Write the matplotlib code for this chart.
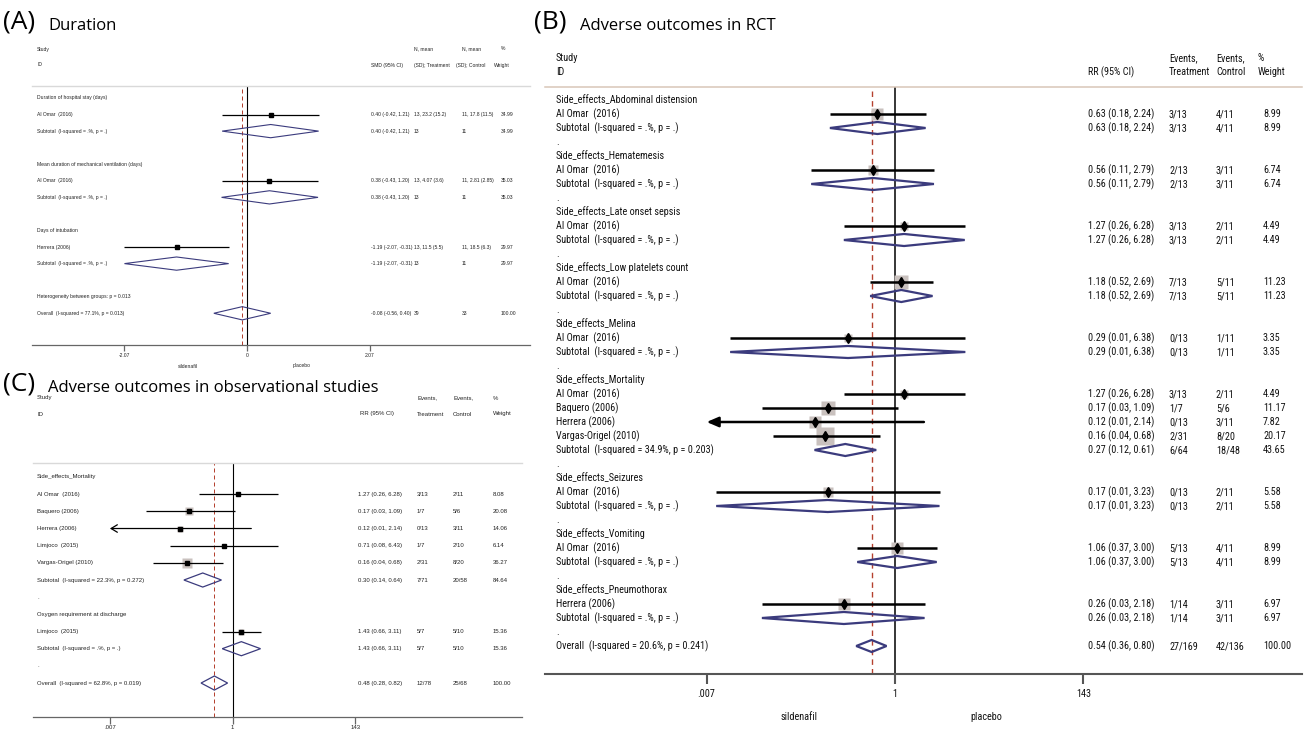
import matplotlib
matplotlib.use("Agg")
import matplotlib.pyplot as plt
from matplotlib.transforms import blended_transform_factory
from matplotlib.patches import Polygon
from matplotlib.ticker import NullLocator
from matplotlib import font_manager as fm
import numpy as np

SUB = "Subtotal  (I-squared = .%, p = .)"

# ---------------- Panel A : Duration (SMD) ----------------
A_labels = ["Duration of hospital stay (days)", "Al Omar  (2016)", SUB, "",
            "Mean duration of mechanical ventilation (days)", "Al Omar  (2016)", SUB, "",
            "Days of intubation", "Herrera (2006)", SUB, "",
            "Heterogeneity between groups: p = 0.013",
            "Overall  (I-squared = 77.1%, p = 0.013)"]
A_kind = ["head", "study", "sub", "blank", "head", "study", "sub", "blank",
          "head", "study", "sub", "blank", "head", "sub"]
A_est = [None, 0.40, 0.40, None, None, 0.38, 0.38, None, None, -1.19, -1.19, None, None, -0.08]
A_lo = [None, -0.42, -0.42, None, None, -0.43, -0.43, None, None, -2.07, -2.07, None, None, -0.56]
A_hi = [None, 1.21, 1.21, None, None, 1.20, 1.20, None, None, -0.31, -0.31, None, None, 0.40]
A_trt = ["", "13, 23.2 (15.2)", "13", "", "", "13, 4.07 (3.6)", "13", "", "",
         "13, 11.5 (5.5)", "13", "", "", "39"]
A_ctrl = ["", "11, 17.8 (11.5)", "11", "", "", "11, 2.81 (2.85)", "11", "", "",
          "11, 18.5 (6.3)", "11", "", "", "33"]
A_wt = [None, 34.99, 34.99, None, None, 35.03, 35.03, None, None, 29.97, 29.97, None, None, 100.00]
A_ticks = [-2.07, 0, 2.07]
A_ticklabels = ["-2.07", "0", "2.07"]
A_headers = ["Study", "ID", "SMD (95% CI)", "N, mean", "(SD); Treatment",
             "N, mean", "(SD); Control", "%", "Weight"]

# ---------------- Panel B : Adverse outcomes in RCT (RR) ----------------
B_labels = ["Side_effects_Abdominal distension", "Al Omar  (2016)", SUB, ".",
            "Side_effects_Hematemesis", "Al Omar  (2016)", SUB, ".",
            "Side_effects_Late onset sepsis", "Al Omar  (2016)", SUB, ".",
            "Side_effects_Low platelets count", "Al Omar  (2016)", SUB, ".",
            "Side_effects_Melina", "Al Omar  (2016)", SUB, ".",
            "Side_effects_Mortality", "Al Omar  (2016)", "Baquero (2006)", "Herrera (2006)",
            "Vargas-Origel (2010)", "Subtotal  (I-squared = 34.9%, p = 0.203)", ".",
            "Side_effects_Seizures", "Al Omar  (2016)", SUB, ".",
            "Side_effects_Vomiting", "Al Omar  (2016)", SUB, ".",
            "Side_effects_Pneumothorax", "Herrera (2006)", SUB, ".",
            "Overall  (I-squared = 20.6%, p = 0.241)"]
B_kind = ["head", "study", "sub", "dot"] * 5 + \
         ["head", "study", "study", "study", "study", "sub", "dot"] + \
         ["head", "study", "sub", "dot"] * 3 + ["sub"]
B_est = [None, 0.63, 0.63, None, None, 0.56, 0.56, None, None, 1.27, 1.27, None,
         None, 1.18, 1.18, None, None, 0.29, 0.29, None,
         None, 1.27, 0.17, 0.12, 0.16, 0.27, None,
         None, 0.17, 0.17, None, None, 1.06, 1.06, None, None, 0.26, 0.26, None, 0.54]
B_lo = [None, 0.18, 0.18, None, None, 0.11, 0.11, None, None, 0.26, 0.26, None,
        None, 0.52, 0.52, None, None, 0.013, 0.013, None,
        None, 0.26, 0.03, 0.006, 0.04, 0.12, None,
        None, 0.009, 0.009, None, None, 0.37, 0.37, None, None, 0.03, 0.03, None, 0.36]
B_hi = [None, 2.24, 2.24, None, None, 2.79, 2.79, None, None, 6.28, 6.28, None,
        None, 2.69, 2.69, None, None, 6.38, 6.38, None,
        None, 6.28, 1.09, 2.14, 0.68, 0.61, None,
        None, 3.23, 3.23, None, None, 3.00, 3.00, None, None, 2.18, 2.18, None, 0.80]
B_trt = ["", "3/13", "3/13", "", "", "2/13", "2/13", "", "", "3/13", "3/13", "",
         "", "7/13", "7/13", "", "", "0/13", "0/13", "",
         "", "3/13", "1/7", "0/13", "2/31", "6/64", "",
         "", "0/13", "0/13", "", "", "5/13", "5/13", "", "", "1/14", "1/14", "", "27/169"]
B_ctrl = ["", "4/11", "4/11", "", "", "3/11", "3/11", "", "", "2/11", "2/11", "",
          "", "5/11", "5/11", "", "", "1/11", "1/11", "",
          "", "2/11", "5/6", "3/11", "8/20", "18/48", "",
          "", "2/11", "2/11", "", "", "4/11", "4/11", "", "", "3/11", "3/11", "", "42/136"]
B_wt = [None, 8.99, 8.99, None, None, 6.74, 6.74, None, None, 4.49, 4.49, None,
        None, 11.23, 11.23, None, None, 3.35, 3.35, None,
        None, 4.49, 11.17, 7.82, 20.17, 43.65, None,
        None, 5.58, 5.58, None, None, 8.99, 8.99, None, None, 6.97, 6.97, None, 100.00]
B_ticks = [0.007, 1, 143]
B_ticklabels = [".007", "1", "143"]
RR_headers = ["Study", "ID", "RR (95% CI)", "Events,", "Treatment",
              "Events,", "Control", "%", "Weight"]

# ---------------- Panel C : Adverse outcomes in observational studies ----------------
C_labels = ["Side_effects_Mortality", "Al Omar  (2016)", "Baquero (2006)", "Herrera (2006)",
            "Limjoco  (2015)", "Vargas-Origel (2010)",
            "Subtotal  (I-squared = 22.3%, p = 0.272)", ".",
            "Oxygen requirement at discharge", "Limjoco  (2015)", SUB, ".",
            "Overall  (I-squared = 62.8%, p = 0.019)"]
C_kind = ["head", "study", "study", "study", "study", "study", "sub", "dot",
          "head", "study", "sub", "dot", "sub"]
C_est = [None, 1.27, 0.17, 0.12, 0.71, 0.16, 0.30, None, None, 1.43, 1.43, None, 0.48]
C_lo = [None, 0.26, 0.03, 0.006, 0.08, 0.04, 0.14, None, None, 0.66, 0.66, None, 0.28]
C_hi = [None, 6.28, 1.09, 2.14, 6.43, 0.68, 0.64, None, None, 3.11, 3.11, None, 0.82]
C_trt = ["", "3/13", "1/7", "0/13", "1/7", "2/31", "7/71", "", "", "5/7", "5/7", "", "12/78"]
C_ctrl = ["", "2/11", "5/6", "3/11", "2/10", "8/20", "20/58", "", "", "5/10", "5/10", "", "25/68"]
C_wt = [None, 8.08, 20.08, 14.06, 6.14, 36.27, 84.64, None, None, 15.36, 15.36, None, 100.00]
C_ticks = [0.007, 1, 143]
C_ticklabels = [".007", "1", "143"]

# ================= FIGURE =================
W, H = 1307, 731
fig = plt.figure(figsize=(W / 100, H / 100), dpi=100)
fig.patch.set_facecolor("white")
renderer = fig.canvas.get_renderer()

NAVY = "#3b3b7d"
BOXC = "#c9c1be"
REDD = "#b5412f"
TITLEF = ["Open Sans", "DejaVu Sans"]


def find_narrow():
    names = ["Liberation Sans Narrow", "Arial Narrow", "Nimbus Sans Narrow",
             "Roboto Condensed", "Noto Sans Condensed", "Open Sans Condensed",
             "DejaVu Sans Condensed"]
    fl = fm.fontManager.ttflist

    def plain(f):
        return f.style == "normal" and f.weight in (400, "normal", "regular", "book")
    for n in names:
        for f in fl:
            if f.name == n and plain(f):
                return fm.FontProperties(fname=f.fname)
    for n in ["Noto Sans", "Roboto", "Open Sans", "DejaVu Sans"]:
        for f in fl:
            if f.name == n and plain(f) and f.stretch in ("condensed", "semi-condensed"):
                return fm.FontProperties(fname=f.fname)
    return fm.FontProperties(family="Liberation Sans")


def sized(fp, sample, target_px):
    fp = fp.copy()
    fp.set_size(10)
    t = fig.text(0, 0, sample, fontproperties=fp)
    w = t.get_window_extent(renderer).width
    t.remove()
    fp.set_size(10 * target_px / w)
    return fp


FP_A = sized(fm.FontProperties(family="Liberation Sans"),
             "Overall  (I-squared = 77.1%, p = 0.013)", 87)
FP_C = sized(fm.FontProperties(family="Liberation Sans"),
             "Overall  (I-squared = 62.8%, p = 0.019)", 104)
FP_B = sized(find_narrow(), "Side_effects_Abdominal distension", 139)


def fig_text(x, y, s, **kw):
    fig.text(x / W, 1 - y / H, s, **kw)


def panel(cfg, labels, kind, est, lo, hi, trt, ctrl, wt, ticks, ticklabels, headers):
    L, R, T, Bm = cfg["left"], cfg["right"], cfg["top"], cfg["bottom"]
    fp = cfg["font"]
    ax = fig.add_axes([L / W, 1 - Bm / H, (R - L) / W, (Bm - T) / H])
    r0, p = cfg["row0"], cfg["pitch"]
    ax.set_ylim((Bm - r0) / p, (T - r0) / p)
    c, s = cfg["null_px"], cfg["px_per"]
    if cfg["log"]:
        ax.set_xscale("log")
        ax.set_xlim(10 ** ((L - c) / s), 10 ** ((R - c) / s))
        null = 1.0
    else:
        ax.set_xlim((L - c) / s, (R - c) / s)
        null = 0.0
    ax.set_facecolor("none")
    for sp in ("left", "right"):
        ax.spines[sp].set_visible(False)
    ax.spines["top"].set_color(cfg["sep_color"])
    ax.spines["top"].set_linewidth(cfg["sep_lw"])
    ax.spines["bottom"].set_color(cfg["axis_color"])
    ax.spines["bottom"].set_linewidth(cfg["axis_lw"])
    ax.set_yticks([])
    ax.set_xticks(ticks)
    ax.set_xticklabels(ticklabels)
    for lbl in ax.get_xticklabels():
        lbl.set_fontproperties(fp)
    ax.xaxis.set_minor_locator(NullLocator())
    ax.tick_params(axis="x", direction="out", length=cfg["ticklen"], width=cfg["axis_lw"],
                   color=cfg["axis_color"], pad=cfg["tickpad"], labelcolor=cfg["tc"])

    ax.axvline(null, color="black", lw=cfg["null_lw"], zorder=1)
    overall = [e for e in est if e is not None][-1]
    ax.axvline(overall, color=REDD, lw=cfg["null_lw"] * 0.9, ls=(0, (4, 3)), zorder=1)

    tr = blended_transform_factory(fig.transFigure, ax.transData)
    tkw = dict(fontproperties=fp, color=cfg["tc"], va="center", ha="left", transform=tr)
    cx = cfg["cols"]
    xmin_clip = ticks[0]
    for i, k in enumerate(kind):
        if labels[i]:
            ax.text(cx[0] / W, i, labels[i], **tkw)
        if est[i] is None:
            continue
        e, l, h = est[i], lo[i], hi[i]
        if k == "study":
            ax.plot([e], [i], marker="s", ms=cfg["box_k"] * np.sqrt(wt[i]), color=BOXC,
                    mec="none", ls="none", zorder=2)
            if l < xmin_clip:
                ax.annotate("", xy=(xmin_clip, i), xytext=(h, i), xycoords="data",
                            arrowprops=dict(arrowstyle=cfg["arrow"], lw=cfg["ci_lw"],
                                            color="black", shrinkA=0, shrinkB=0,
                                            mutation_scale=10), zorder=3)
            else:
                ax.plot([l, h], [i, i], color="black", lw=cfg["ci_lw"],
                        solid_capstyle="butt", zorder=3)
            ax.plot([e], [i], marker=cfg["pt_marker"], ms=cfg["pt_ms"], color="black",
                    ls="none", zorder=4)
        else:
            hh = cfg["dia_h"]
            ax.add_patch(Polygon([[l, i], [e, i - hh], [h, i], [e, i + hh]], closed=True,
                                 fill=False, ec=NAVY, lw=cfg["dia_lw"], zorder=3,
                                 joinstyle="miter"))
        ax.text(cx[1] / W, i, f"{e:.2f} ({l:.2f}, {h:.2f})", **tkw)
        ax.text(cx[2] / W, i, trt[i], **tkw)
        ax.text(cx[3] / W, i, ctrl[i], **tkw)
        ax.text(cx[4] / W, i, f"{wt[i]:.2f}", **tkw)

    for (hx, hy), txt in zip(cfg["header_pos"], headers):
        fig_text(hx, hy, txt, fontproperties=fp, color=cfg["tc"], va="center", ha="left")
    for (fx_, fy_), txt in zip(cfg.get("fav_pos", []), ["sildenafil", "placebo"]):
        fig_text(fx_, fy_, txt, fontproperties=fp, color=cfg["tc"], va="center", ha="center")
    return ax


cfgA = dict(left=32, right=530, top=86, bottom=345, row0=98, pitch=16.56,
            log=False, null_px=247, px_per=59.2,
            sep_color="#d9d9d9", sep_lw=1.0, axis_color="#666666", axis_lw=0.9,
            ticklen=4, tickpad=1.5, null_lw=0.8, font=FP_A, tc="#222222",
            cols=[37, 371, 414, 462, 501], box_k=0.45, pt_marker="s", pt_ms=2.2,
            ci_lw=0.9, dia_h=0.40, dia_lw=0.8, arrow="->,head_length=0.4,head_width=0.25",
            header_pos=[(37, 49), (37, 65), (371, 65), (414, 49), (414, 65),
                        (462, 49), (456, 65), (501, 49), (494, 65)],
            fav_pos=[(188, 366), (302, 366)])

cfgC = dict(left=33, right=522, top=463, bottom=717, row0=477, pitch=17.17,
            log=True, null_px=232.5, px_per=56.9,
            sep_color="#d9d9d9", sep_lw=1.0, axis_color="#666666", axis_lw=0.9,
            ticklen=5, tickpad=1.0, null_lw=0.8, font=FP_C, tc="#222222",
            cols=[37, 358, 417, 453, 493], box_k=1.2, pt_marker="s", pt_ms=2.2,
            ci_lw=0.9, dia_h=0.41, dia_lw=0.9, arrow="->,head_length=0.45,head_width=0.27",
            header_pos=[(37, 398), (37, 414), (360, 414), (417, 398), (417, 414),
                        (453, 398), (453, 414), (493, 398), (493, 414)])

cfgB = dict(left=545, right=1302, top=87, bottom=674, row0=100, pitch=14.0,
            log=True, null_px=895, px_per=87.4,
            sep_color="#d8c6b8", sep_lw=1.1, axis_color="#555555", axis_lw=1.5,
            ticklen=7, tickpad=4, null_lw=1.1, font=FP_B, tc="#111111",
            cols=[556, 1088, 1169, 1216, 1263], box_k=3.0, pt_marker="d", pt_ms=5.5,
            ci_lw=1.8, dia_h=0.43, dia_lw=1.6, arrow="-|>,head_length=0.7,head_width=0.3",
            header_pos=[(556, 58), (556, 72), (1088, 72), (1169, 58), (1169, 72),
                        (1216, 58), (1216, 72), (1258, 58), (1258, 72)],
            fav_pos=[(799, 717), (986, 717)])

panel(cfgA, A_labels, A_kind, A_est, A_lo, A_hi, A_trt, A_ctrl, A_wt, A_ticks, A_ticklabels, A_headers)
panel(cfgB, B_labels, B_kind, B_est, B_lo, B_hi, B_trt, B_ctrl, B_wt, B_ticks, B_ticklabels, RR_headers)
panel(cfgC, C_labels, C_kind, C_est, C_lo, C_hi, C_trt, C_ctrl, C_wt, C_ticks, C_ticklabels, RR_headers)

# titles
fig_text(3, 22, "(A)", fontfamily=TITLEF, fontsize=19, va="center", ha="left")
fig_text(48, 26, "Duration", fontfamily=TITLEF, fontsize=12, va="center", ha="left")
fig_text(534, 22, "(B)", fontfamily=TITLEF, fontsize=19, va="center", ha="left")
fig_text(580, 26, "Adverse outcomes in RCT", fontfamily=TITLEF, fontsize=12, va="center", ha="left")
fig_text(3, 384, "(C)", fontfamily=TITLEF, fontsize=19, va="center", ha="left")
fig_text(48, 388, "Adverse outcomes in observational studies", fontfamily=TITLEF, fontsize=12,
         va="center", ha="left")

fig.savefig("out.png", dpi=100, facecolor="white")
